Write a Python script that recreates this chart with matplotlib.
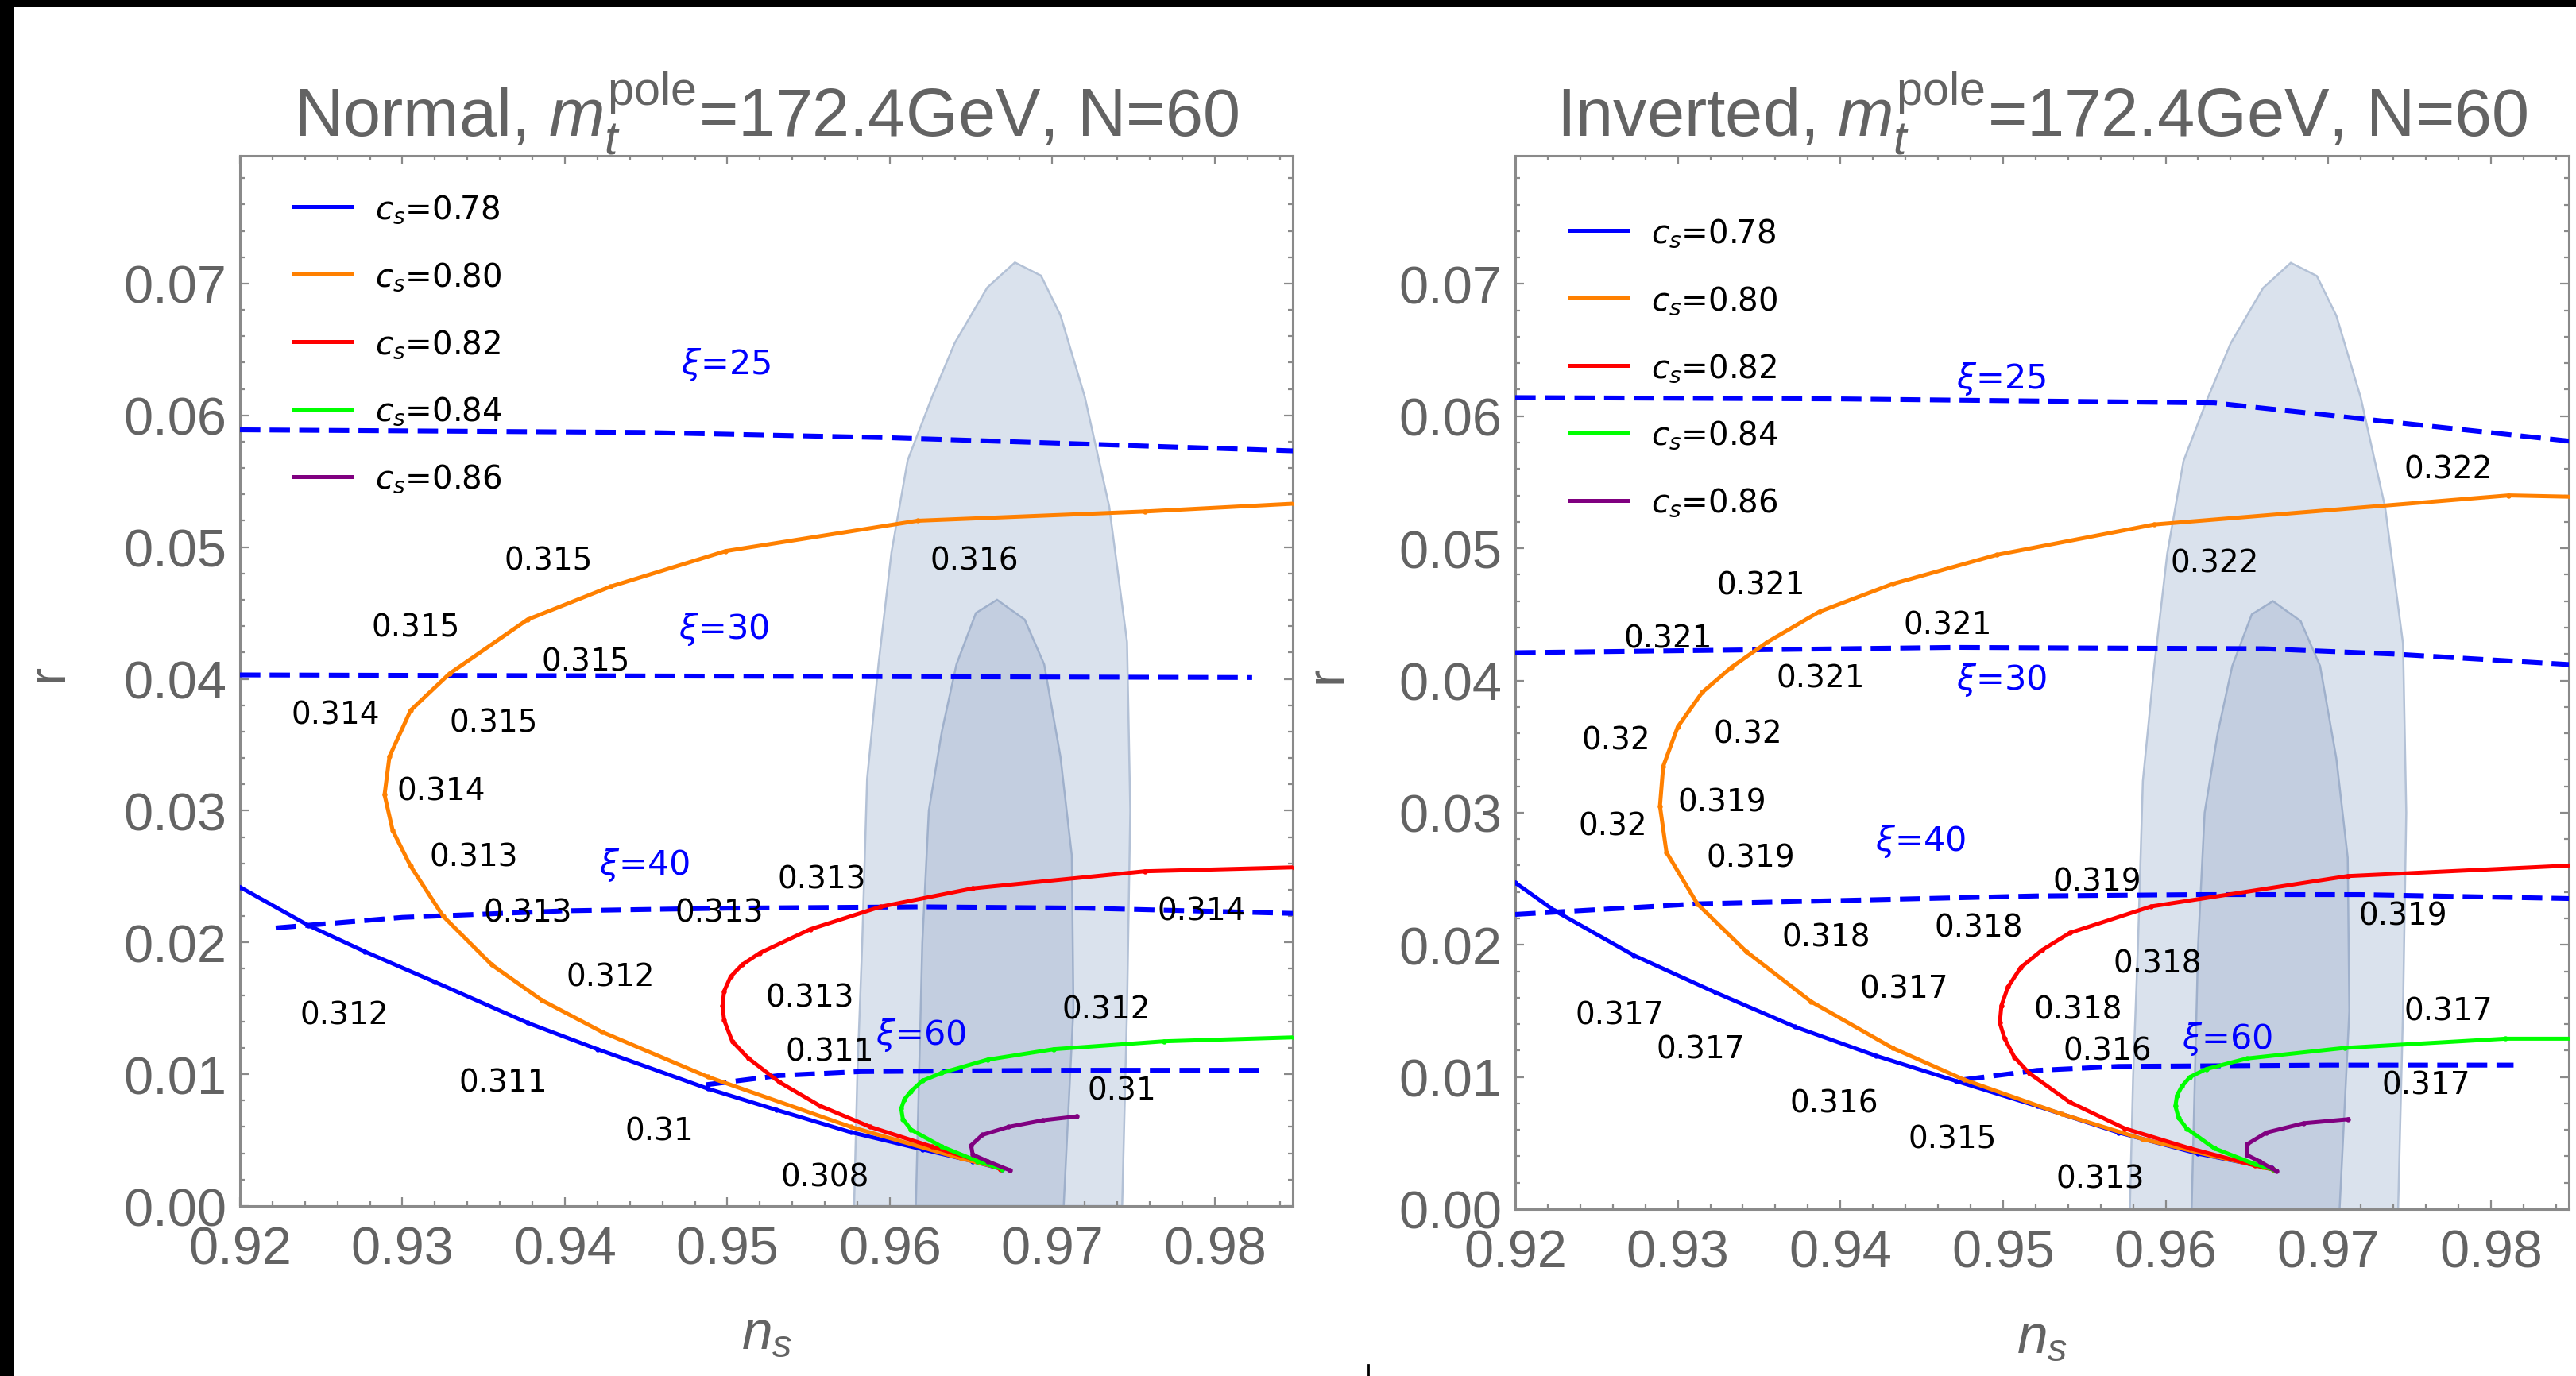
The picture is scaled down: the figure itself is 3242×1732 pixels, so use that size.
import matplotlib
matplotlib.use("Agg")
import matplotlib.pyplot as plt
from matplotlib.patches import Rectangle
from matplotlib.lines import Line2D
from matplotlib.ticker import MultipleLocator, FormatStrFormatter

plt.rcParams['font.family'] = ['Liberation Sans', 'DejaVu Sans']
plt.rcParams['mathtext.fontset'] = 'custom'
plt.rcParams['mathtext.rm'] = 'Liberation Sans'
plt.rcParams['mathtext.it'] = 'Liberation Sans:italic'
plt.rcParams['mathtext.bf'] = 'Liberation Sans:bold'

# ---------------------------------------------------------------- data
cs_values = [0.78, 0.80, 0.82, 0.84, 0.86]
cs_colors = ['#0000ff', '#ff8000', '#ff0000', '#00ff00', '#800080']
xi_values = [25, 30, 40, 60]

# Planck 2-sigma and 1-sigma regions in the (n_s, r) plane
planck_2s_ns = [0.9578, 0.9580, 0.9583, 0.9586, 0.9593, 0.9601, 0.9611, 0.9626, 0.9640,
                0.9660, 0.9677, 0.9693, 0.9705, 0.9720, 0.9735, 0.9746, 0.9748, 0.9746, 0.9743]
planck_2s_r = [0.0, 0.0100, 0.0200, 0.0324, 0.0411, 0.0496, 0.0566, 0.0614, 0.0655,
               0.0697, 0.0716, 0.0706, 0.0676, 0.0614, 0.0531, 0.0428, 0.0300, 0.0150, 0.0]
planck_1s_ns = [0.9616, 0.9618, 0.9620, 0.9624, 0.9632, 0.9641, 0.9653, 0.9666,
                0.9683, 0.9695, 0.9705, 0.9712, 0.9713, 0.9707]
planck_1s_r = [0.0, 0.0100, 0.0200, 0.0300, 0.0360, 0.0411, 0.0450, 0.0460,
               0.0445, 0.0411, 0.0341, 0.0266, 0.0150, 0.0]

# ---- Normal ordering: c_s curves
normal_ns_078 = [0.9200, 0.9242, 0.9277, 0.9320, 0.9377, 0.9420, 0.9488, 0.9530,
                 0.9576, 0.9620, 0.9651, 0.9669]
normal_r_078 = [0.0242, 0.0213, 0.0193, 0.0170, 0.0139, 0.0119, 0.0089, 0.0073,
                0.0056, 0.0043, 0.0034, 0.0028]
normal_ns_080 = [0.9849, 0.9757, 0.9617, 0.9499, 0.9428, 0.9377, 0.9329, 0.9305, 0.9292,
                 0.9289, 0.9294, 0.9305, 0.9325, 0.9355, 0.9386, 0.9423, 0.9488, 0.9576,
                 0.9644, 0.9667]
normal_r_080 = [0.0533, 0.0527, 0.0520, 0.0497, 0.0470, 0.0445, 0.0404, 0.0376, 0.0341,
                0.0312, 0.0285, 0.0258, 0.0220, 0.0183, 0.0156, 0.0132, 0.0098, 0.0060,
                0.0036, 0.0029]
normal_ns_082 = [0.9849, 0.9757, 0.9651, 0.9594, 0.9551, 0.9520, 0.9509, 0.9502, 0.9498,
                 0.9497, 0.9498, 0.9503, 0.9513, 0.9532, 0.9557, 0.9588, 0.9626, 0.9663,
                 0.9668]
normal_r_082 = [0.0257, 0.0254, 0.0241, 0.0227, 0.0210, 0.0192, 0.0183, 0.0174, 0.0163,
                0.0152, 0.0141, 0.0125, 0.0112, 0.0094, 0.0076, 0.0060, 0.0045, 0.0031,
                0.0028]
normal_ns_084 = [0.9849, 0.9769, 0.9701, 0.9660, 0.9632, 0.9620, 0.9613, 0.9609, 0.9607,
                 0.9608, 0.9613, 0.9632, 0.9654, 0.9669]
normal_r_084 = [0.0128, 0.0125, 0.0119, 0.0111, 0.0101, 0.0095, 0.0087, 0.0081, 0.0074,
                0.0066, 0.0058, 0.0045, 0.0034, 0.0028]
normal_ns_086 = [0.9715, 0.9694, 0.9673, 0.9657, 0.9650, 0.9651, 0.9660, 0.9674]
normal_r_086 = [0.0068, 0.0065, 0.0060, 0.0054, 0.0046, 0.0039, 0.0034, 0.0027]

# ---- Normal ordering: constant-xi lines
normal_xi25_ns = [0.9200, 0.9450, 0.9600, 0.9700, 0.9849]
normal_xi25_r = [0.0589, 0.0587, 0.0583, 0.0579, 0.0573]
normal_xi30_ns = [0.9200, 0.9823]
normal_xi30_r = [0.0403, 0.0401]
normal_xi40_ns = [0.9222, 0.9300, 0.9400, 0.9500, 0.9620, 0.9720, 0.9849]
normal_xi40_r = [0.0211, 0.0219, 0.0224, 0.0226, 0.0227, 0.0226, 0.0222]
normal_xi60_ns = [0.9487, 0.9532, 0.9582, 0.9700, 0.9828]
normal_xi60_r = [0.0092, 0.0099, 0.0102, 0.0103, 0.0103]

normal_xi_label_ns = [0.9499, 0.9498, 0.9449, 0.9619]
normal_xi_label_r = [0.0639, 0.0438, 0.0259, 0.0130]

# ---- Normal ordering: point annotations
normal_label_text = ['0.315', '0.316', '0.315', '0.315', '0.314', '0.315', '0.314', '0.313',
                     '0.313', '0.313', '0.313', '0.314', '0.312', '0.313', '0.312', '0.312',
                     '0.311', '0.311', '0.31', '0.31', '0.308']
normal_label_ns = [0.9390, 0.9652, 0.9308, 0.9413, 0.9259, 0.9356, 0.9324, 0.9344,
                   0.9558, 0.9377, 0.9495, 0.9792, 0.9428, 0.9551, 0.9733, 0.9264,
                   0.9563, 0.9362, 0.9743, 0.9458, 0.9560]
normal_label_r = [0.0490, 0.0490, 0.0439, 0.0413, 0.0373, 0.0367, 0.0315, 0.0265,
                  0.0248, 0.0223, 0.0223, 0.0224, 0.0174, 0.0158, 0.0149, 0.0145,
                  0.0117, 0.0094, 0.0088, 0.0057, 0.0022]

# ---- Inverted ordering: c_s curves
inverted_ns_078 = [0.9200, 0.9224, 0.9273, 0.9323, 0.9372, 0.9422, 0.9471, 0.9521, 0.9571,
                   0.9620, 0.9665]
inverted_r_078 = [0.0247, 0.0226, 0.0192, 0.0164, 0.0138, 0.0116, 0.0097, 0.0078, 0.0058,
                  0.0042, 0.0031]
inverted_ns_080 = [0.9849, 0.9811, 0.9593, 0.9496, 0.9432, 0.9387, 0.9355, 0.9333, 0.9315,
                   0.9300, 0.9291, 0.9289, 0.9293, 0.9312, 0.9342, 0.9382, 0.9432, 0.9476,
                   0.9536, 0.9586, 0.9630, 0.9660, 0.9666]
inverted_r_080 = [0.0539, 0.0540, 0.0518, 0.0495, 0.0473, 0.0452, 0.0429, 0.0410, 0.0391,
                  0.0365, 0.0335, 0.0305, 0.0270, 0.0231, 0.0195, 0.0157, 0.0122, 0.0098,
                  0.0072, 0.0053, 0.0040, 0.0032, 0.0030]
inverted_ns_082 = [0.9849, 0.9712, 0.9591, 0.9541, 0.9524, 0.9511, 0.9503, 0.9499, 0.9498,
                   0.9501, 0.9507, 0.9516, 0.9541, 0.9575, 0.9615, 0.9655, 0.9666]
inverted_r_082 = [0.0260, 0.0252, 0.0229, 0.0209, 0.0196, 0.0183, 0.0168, 0.0154, 0.0141,
                  0.0129, 0.0115, 0.0103, 0.0081, 0.0061, 0.0046, 0.0033, 0.0030]
inverted_ns_084 = [0.9849, 0.9809, 0.9710, 0.9650, 0.9625, 0.9615, 0.9610, 0.9607, 0.9606,
                   0.9608, 0.9613, 0.9630, 0.9655, 0.9666]
inverted_r_084 = [0.0129, 0.0129, 0.0122, 0.0114, 0.0106, 0.0100, 0.0093, 0.0086, 0.0078,
                  0.0069, 0.0061, 0.0046, 0.0034, 0.0030]
inverted_ns_086 = [0.9712, 0.9685, 0.9662, 0.9650, 0.9650, 0.9658, 0.9665, 0.9668]
inverted_r_086 = [0.0068, 0.0065, 0.0058, 0.0049, 0.0041, 0.0036, 0.0031, 0.0029]

# ---- Inverted ordering: constant-xi lines
inverted_xi25_ns = [0.9200, 0.9400, 0.9630, 0.9849]
inverted_xi25_r = [0.0614, 0.0613, 0.0610, 0.0581]
inverted_xi30_ns = [0.9200, 0.9470, 0.9660, 0.9740, 0.9849]
inverted_xi30_r = [0.0421, 0.0425, 0.0424, 0.0420, 0.0412]
inverted_xi40_ns = [0.9200, 0.9312, 0.9521, 0.9620, 0.9720, 0.9849]
inverted_xi40_r = [0.0223, 0.0231, 0.0237, 0.0238, 0.0238, 0.0235]
inverted_xi60_ns = [0.9476, 0.9521, 0.9571, 0.9700, 0.9814]
inverted_xi60_r = [0.0098, 0.0105, 0.0108, 0.0109, 0.0109]

inverted_xi_label_ns = [0.9499, 0.9499, 0.9449, 0.9638]
inverted_xi_label_r = [0.0629, 0.0401, 0.0279, 0.0129]

# ---- Inverted ordering: point annotations
inverted_label_text = ['0.322', '0.322', '0.321', '0.321', '0.321', '0.321', '0.32', '0.32',
                       '0.319', '0.32', '0.319', '0.319', '0.318', '0.318', '0.319', '0.318',
                       '0.317', '0.318', '0.317', '0.317', '0.316', '0.317', '0.317', '0.316',
                       '0.315', '0.313']
inverted_label_ns = [0.9774, 0.9630, 0.9351, 0.9466, 0.9294, 0.9388, 0.9262, 0.9343,
                     0.9327, 0.9260, 0.9345, 0.9558, 0.9391, 0.9485, 0.9746, 0.9595,
                     0.9439, 0.9546, 0.9264, 0.9774, 0.9564, 0.9314, 0.9760, 0.9396,
                     0.9469, 0.9560]
inverted_label_r = [0.0560, 0.0489, 0.0472, 0.0442, 0.0432, 0.0402, 0.0355, 0.0360,
                    0.0308, 0.0290, 0.0266, 0.0248, 0.0206, 0.0213, 0.0222, 0.0186,
                    0.0167, 0.0151, 0.0147, 0.0150, 0.0120, 0.0121, 0.0094, 0.0080,
                    0.0053, 0.0023]

ns_limits = (0.92, 0.9848)
r_limits = (0.0, 0.0797)

# ---------------------------------------------------------------- style
GRAY_TEXT = '#636363'
FRAME = '#8a8a8a'
SMALL_FONT = 'DejaVu Sans'

W, H = 3242, 1733
DPI = 200
fig = plt.figure(figsize=(W / DPI, H / DPI), dpi=DPI, facecolor='white')

ax_left = fig.add_axes([302 / W, 1 - 1519 / H, 1325 / W, 1322 / H])
ax_right = fig.add_axes([1907 / W, 1 - 1523 / H, 1326 / W, 1326 / H])


def draw_panel(ax, title, curves, xi_lines, xi_label_pos, labels, legend_anchor, ylabel_x):
    # confidence regions
    ax.fill(planck_2s_ns, planck_2s_r, facecolor='#dae2ed', edgecolor='#b3c1d6',
            lw=0.9, zorder=1)
    ax.fill(planck_1s_ns, planck_1s_r, facecolor='#c3cee0', edgecolor='#9fb0cb',
            lw=0.9, zorder=2)

    # constant-xi lines
    for (xs, ys) in xi_lines:
        ax.plot(xs, ys, color='#0000ff', lw=2.2, dashes=(4.2, 1.9), zorder=3)

    # c_s curves (later curves drawn on top)
    handles = []
    for cs, color, (xs, ys) in zip(cs_values, cs_colors, curves):
        line, = ax.plot(xs, ys, color=color, lw=1.8, marker='.', ms=2.6,
                        solid_joinstyle='round', label=f'$c_s$={cs:.2f}', zorder=4)
        handles.append(line)

    # xi annotations
    for xi, x, y in zip(xi_values, *xi_label_pos):
        ax.text(x, y, rf'$\xi$={xi}', color='#0000ff', fontsize=15.5, family=SMALL_FONT,
                math_fontfamily='dejavusans', ha='center', va='center', zorder=6)

    # point annotations
    for txt, x, y in zip(*labels):
        ax.text(x, y, txt, color='black', fontsize=14, family=SMALL_FONT,
                ha='center', va='center', zorder=6)

    leg = ax.legend(handles=handles, loc='upper left', bbox_to_anchor=legend_anchor,
                    frameon=False, borderpad=0.0, borderaxespad=0.0,
                    handlelength=1.81, handletextpad=0.75, labelspacing=1.09,
                    prop={'family': SMALL_FONT, 'size': 14.5})
    for t in leg.get_texts():
        t.set_math_fontfamily('dejavusans')
    for h in leg.get_lines():
        h.set_marker('')
    leg.set_zorder(7)

    ax.set_xlim(*ns_limits)
    ax.set_ylim(*r_limits)
    ax.xaxis.set_major_locator(MultipleLocator(0.01))
    ax.xaxis.set_minor_locator(MultipleLocator(0.002))
    ax.yaxis.set_major_locator(MultipleLocator(0.01))
    ax.yaxis.set_minor_locator(MultipleLocator(0.002))
    ax.xaxis.set_major_formatter(FormatStrFormatter('%.2f'))
    ax.yaxis.set_major_formatter(FormatStrFormatter('%.2f'))
    ax.tick_params(which='both', direction='in', top=True, right=True, color=FRAME,
                   width=0.8)
    ax.tick_params(which='major', length=4.0, labelsize=24, labelcolor=GRAY_TEXT)
    ax.tick_params(axis='x', which='major', pad=9)
    ax.tick_params(axis='y', which='major', pad=6)
    ax.tick_params(which='minor', length=2.2)
    for sp in ax.spines.values():
        sp.set_color(FRAME)
        sp.set_linewidth(1.1)

    ax.set_title(title, fontsize=30.5, color=GRAY_TEXT, pad=5)
    ax.set_xlabel('$n_s$', fontsize=25, color=GRAY_TEXT)
    ax.xaxis.set_label_coords(0.5, -0.098)
    ax.set_ylabel('r', fontsize=24, color=GRAY_TEXT)
    ax.yaxis.set_label_coords(ylabel_x, 0.508)


draw_panel(
    ax_left,
    r'Normal, $m_t^{\mathrm{pole}}$=172.4GeV, N=60',
    [(normal_ns_078, normal_r_078), (normal_ns_080, normal_r_080),
     (normal_ns_082, normal_r_082), (normal_ns_084, normal_r_084),
     (normal_ns_086, normal_r_086)],
    [(normal_xi25_ns, normal_xi25_r), (normal_xi30_ns, normal_xi30_r),
     (normal_xi40_ns, normal_xi40_r), (normal_xi60_ns, normal_xi60_r)],
    (normal_xi_label_ns, normal_xi_label_r),
    (normal_label_text, normal_label_ns, normal_label_r),
    (0.0506, 0.9648),
    -0.158,
)

draw_panel(
    ax_right,
    r'Inverted, $m_t^{\mathrm{pole}}$=172.4GeV, N=60',
    [(inverted_ns_078, inverted_r_078), (inverted_ns_080, inverted_r_080),
     (inverted_ns_082, inverted_r_082), (inverted_ns_084, inverted_r_084),
     (inverted_ns_086, inverted_r_086)],
    [(inverted_xi25_ns, inverted_xi25_r), (inverted_xi30_ns, inverted_xi30_r),
     (inverted_xi40_ns, inverted_xi40_r), (inverted_xi60_ns, inverted_xi60_r)],
    (inverted_xi_label_ns, inverted_xi_label_r),
    (inverted_label_text, inverted_label_ns, inverted_label_r),
    (0.0513, 0.9423),
    -0.155,
)

# dark frame strips along the top and left edges
fig.add_artist(Rectangle((0, 1 - 10 / H), 1, 10 / H, transform=fig.transFigure,
                         facecolor='black', edgecolor='none', zorder=20))
fig.add_artist(Rectangle((0, 0), 17 / W, 1, transform=fig.transFigure,
                         facecolor='black', edgecolor='none', zorder=20))
fig.add_artist(Line2D([1722 / W, 1722 / W], [0, 14 / H], transform=fig.transFigure,
                      color='black', lw=1.0))

fig.savefig('out.png', dpi=DPI, facecolor='white')
